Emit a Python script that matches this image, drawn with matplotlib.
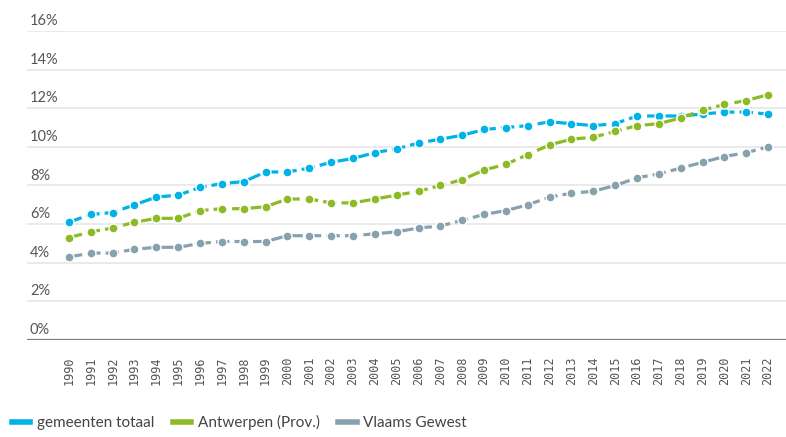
import matplotlib
matplotlib.use("Agg")
import matplotlib.pyplot as plt
from matplotlib.lines import Line2D
import matplotlib.transforms as mtransforms

# Data (percentages)
years = list(range(1990, 2023))

gemeenten_totaal = [6.1, 6.5, 6.6, 7.0, 7.4, 7.5, 7.9, 8.1, 8.2, 8.7, 8.7, 8.9, 9.2, 9.4, 9.7, 9.9,
                    10.2, 10.4, 10.6, 10.9, 11.0, 11.1, 11.3, 11.2, 11.1, 11.2, 11.6, 11.6, 11.6,
                    11.7, 11.8, 11.8, 11.7]
antwerpen_prov = [5.3, 5.6, 5.8, 6.1, 6.3, 6.3, 6.7, 6.8, 6.8, 6.9, 7.3, 7.3, 7.1, 7.1, 7.3, 7.5,
                  7.7, 8.0, 8.3, 8.8, 9.1, 9.6, 10.1, 10.4, 10.5, 10.8, 11.1, 11.2, 11.5, 11.9,
                  12.2, 12.4, 12.7]
vlaams_gewest = [4.3, 4.5, 4.5, 4.7, 4.8, 4.8, 5.0, 5.1, 5.1, 5.1, 5.4, 5.4, 5.4, 5.4, 5.5, 5.6,
                 5.8, 5.9, 6.2, 6.5, 6.7, 7.0, 7.4, 7.6, 7.7, 8.0, 8.4, 8.6, 8.9, 9.2, 9.5, 9.7, 10.0]

series_names = ["gemeenten totaal", "Antwerpen (Prov.)", "Vlaams Gewest"]
series_colors = ["#00B3E6", "#8CBB26", "#87A1AF"]
y_ticks = [0, 2, 4, 6, 8, 10, 12, 14, 16]

W, H = 786, 437
fig = plt.figure(figsize=(W / 100, H / 100), dpi=100)
ax = fig.add_axes([27 / W, (H - 340) / H, (W - 27) / W, (340 - 31) / H])

for values, color in zip([gemeenten_totaal, antwerpen_prov, vlaams_gewest], series_colors):
    ax.plot(years, values, color=color, linewidth=2.3, dashes=(4.2, 1.6),
            marker="o", markersize=6.5, markerfacecolor=color,
            markeredgecolor="white", markeredgewidth=1.0, zorder=3, clip_on=False)

ax.set_xlim(1988.08, 2022.82)
ax.set_ylim(0, 16)

# horizontal grid
for t in y_ticks[1:]:
    ax.axhline(t, color="#e6e6e6", linewidth=1.2, zorder=1)
ax.axhline(0, color="#7a7a7a", linewidth=1.6, zorder=2)

for s in ax.spines.values():
    s.set_visible(False)

# y labels inside the plot, above each grid line
trans = mtransforms.blended_transform_factory(ax.transAxes, ax.transData)
offset = mtransforms.ScaledTranslation(0, 3 / 100, fig.dpi_scale_trans)
for t in y_ticks:
    ax.text(3 / (W - 27), t, f"{t}%", transform=trans + offset, ha="left", va="bottom",
            fontsize=10.5, family="Lato", color="#555555")
ax.set_yticks([])

ax.set_xticks(years)
ax.set_xticklabels([str(y) for y in years], rotation=90, fontfamily="DejaVu Sans Mono",
                   fontsize=8.5, color="#555555")
ax.tick_params(axis="x", length=0, pad=12)

handles = [Line2D([0], [0], color=c, linewidth=4) for c in series_colors]
fig.legend(handles, series_names, loc="lower left", bbox_to_anchor=(-2 / W, -7 / H),
           ncol=3, frameon=False, handlelength=1.2, handletextpad=0.45, columnspacing=1.2,
           prop={"family": "Lato", "size": 11}, labelcolor="#444444")

plt.savefig("out.png", dpi=100)
